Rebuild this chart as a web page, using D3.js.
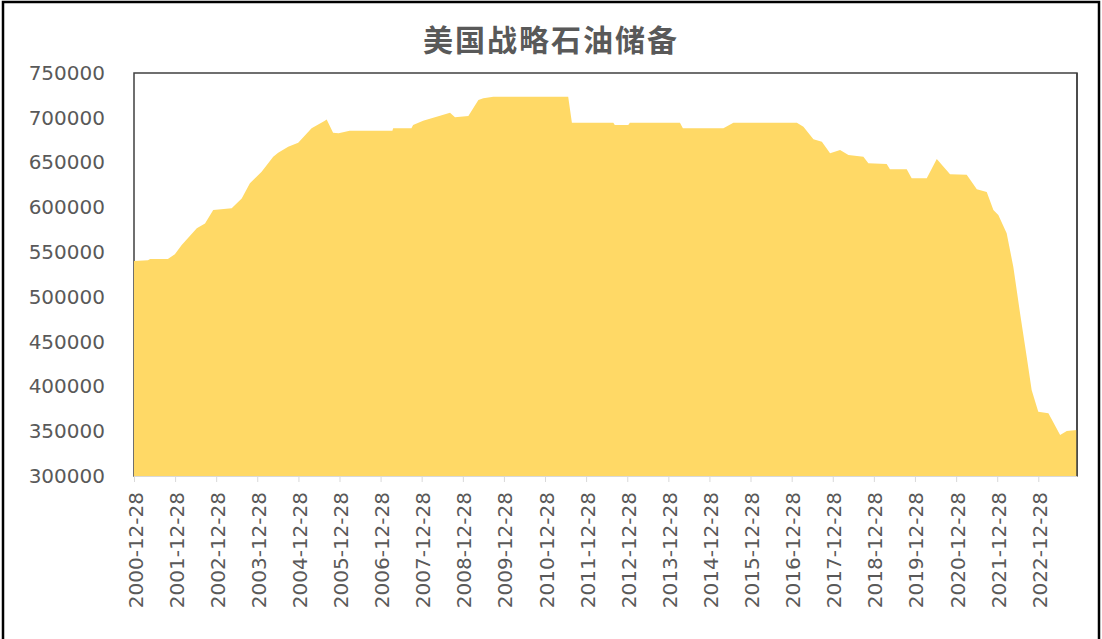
<!DOCTYPE html>
<html lang="zh">
<head>
<meta charset="utf-8">
<title>美国战略石油储备</title>
<script src="https://cdn.jsdelivr.net/npm/d3@7"></script>
<style>
  body { margin: 0; background: #fff; }
  .tick-label { font-family: "DejaVu Sans", sans-serif; font-size: 20px; fill: #595959; }
  .title { font-family: "Noto Sans CJK SC", sans-serif; font-size: 30px; font-weight: bold; fill: #595959; }
</style>
</head>
<body>
<div id="chart"></div>
<script>
// weekly SPR stocks at the turning points
var dates = ["2000-12-28","2001-05-01","2001-05-20","2001-10-25","2001-12-26","2002-02-25","2002-07-09",
  "2002-09-20","2002-12-02","2003-05-15","2003-08-12","2003-10-24","2004-02-05","2004-05-18","2004-07-01",
  "2004-09-28","2004-12-26","2005-04-24","2005-08-20","2005-09-05","2005-11-01","2005-12-20","2006-03-28",
  "2007-04-12","2007-04-19","2007-09-28","2007-10-13","2008-01-10","2008-06-08","2008-09-05","2008-10-19",
  "2009-02-15","2009-05-15","2009-06-28","2009-09-25","2011-07-22","2011-08-24","2012-08-26","2012-09-08",
  "2013-01-06","2013-01-20","2014-04-10","2014-05-06","2015-05-01","2015-07-29","2017-02-12","2017-04-11",
  "2017-07-09","2017-09-22","2017-12-04","2018-03-03","2018-05-16","2018-09-26","2018-11-09","2019-04-21",
  "2019-05-20","2019-10-16","2019-11-29","2020-04-11","2020-07-09","2020-11-04","2021-04-01","2021-06-30",
  "2021-09-26","2021-11-24","2022-01-07","2022-03-22","2022-05-20","2022-07-19","2022-09-16","2022-10-30",
  "2022-12-28","2023-03-28","2023-07-10","2023-09-07","2023-12-07"];
var values = [540000,541000,542300,542300,547500,558000,576600,
  582000,597000,599000,610000,626800,639800,656500,661000,
  667700,672000,688200,696700,698000,683300,682600,685600,
  685600,688200,688200,691900,696700,702300,705700,700500,
  702000,719800,721700,723500,723500,694500,694500,691900,
  691900,694500,694500,688200,688200,694500,694500,690000,
  676000,673300,660300,664000,658400,656500,649200,648400,
  642400,642400,632400,632400,654000,636900,636500,620100,
  617000,597000,591400,571000,533700,481700,433200,396000,
  371800,370000,345800,350200,351400];

var yTicks = [300000,350000,400000,450000,500000,550000,600000,650000,700000,750000];
var xTickLabels = ["2000-12-28","2001-12-28","2002-12-28","2003-12-28","2004-12-28","2005-12-28",
  "2006-12-28","2007-12-28","2008-12-28","2009-12-28","2010-12-28","2011-12-28","2012-12-28",
  "2013-12-28","2014-12-28","2015-12-28","2016-12-28","2017-12-28","2018-12-28","2019-12-28",
  "2020-12-28","2021-12-28","2022-12-28"];

var width = 1102, height = 639;
var margin = {top: 73, right: 25, bottom: 163, left: 134};

var parse = d3.timeParse("%Y-%m-%d");
var data = dates.map(function(d, i) { return {date: parse(d), value: values[i]}; });

var svg = d3.select("#chart").append("svg")
    .attr("width", width)
    .attr("height", height);

// outer frame
svg.append("rect")
    .attr("x", 3).attr("y", 2)
    .attr("width", 1096).attr("height", 700)
    .attr("fill", "none")
    .attr("stroke", "#000")
    .attr("stroke-width", 2.5);

svg.append("text")
    .attr("class", "title")
    .attr("x", 551)
    .attr("y", 51)
    .attr("text-anchor", "middle")
    .style("letter-spacing", "2px")
    .text("美国战略石油储备");

var x = d3.scaleTime()
    .domain([parse("2000-12-28"), parse("2023-12-07")])
    .range([margin.left, width - margin.right]);

var y = d3.scaleLinear()
    .domain([300000, 750000])
    .range([height - margin.bottom, margin.top]);

// plot border
svg.append("rect")
    .attr("x", margin.left).attr("y", margin.top)
    .attr("width", width - margin.left - margin.right)
    .attr("height", height - margin.top - margin.bottom)
    .attr("fill", "none")
    .attr("stroke", "#404040")
    .attr("stroke-width", 1.5);

var area = d3.area()
    .x(function(d) { return x(d.date); })
    .y0(y(300000))
    .y1(function(d) { return y(d.value); });

svg.append("path")
    .datum(data)
    .attr("fill", "#FFD966")
    .attr("d", area);

// redraw right border over the fill
svg.append("line")
    .attr("x1", width - margin.right).attr("x2", width - margin.right)
    .attr("y1", margin.top).attr("y2", height - margin.bottom)
    .attr("stroke", "#404040")
    .attr("stroke-width", 1.5);

var yAxis = d3.axisLeft(y)
    .tickValues(yTicks)
    .tickSize(0)
    .tickPadding(29)
    .tickFormat(d3.format("d"));

var gy = svg.append("g")
    .attr("transform", "translate(" + margin.left + ",0)")
    .call(yAxis);
gy.select(".domain").remove();
gy.selectAll("text").attr("class", "tick-label").attr("font-family", null).attr("font-size", null);

var xAxis = d3.axisBottom(x)
    .tickValues(xTickLabels.map(parse))
    .tickSize(6)
    .tickFormat(d3.timeFormat("%Y-%m-%d"));

var gx = svg.append("g")
    .attr("transform", "translate(0," + (height - margin.bottom) + ")")
    .call(xAxis);
gx.select(".domain").attr("stroke", "#D9D9D9").attr("d", "M" + margin.left + ",0.5H" + (width - margin.right));
gx.selectAll(".tick line").attr("stroke", "#D9D9D9");
gx.selectAll("text")
    .attr("class", "tick-label")
    .attr("font-family", null).attr("font-size", null)
    .attr("transform", "rotate(-90)")
    .attr("text-anchor", "end")
    .attr("x", -16)
    .attr("y", 1)
    .attr("dy", "0.35em");
</script>
</body>
</html>
